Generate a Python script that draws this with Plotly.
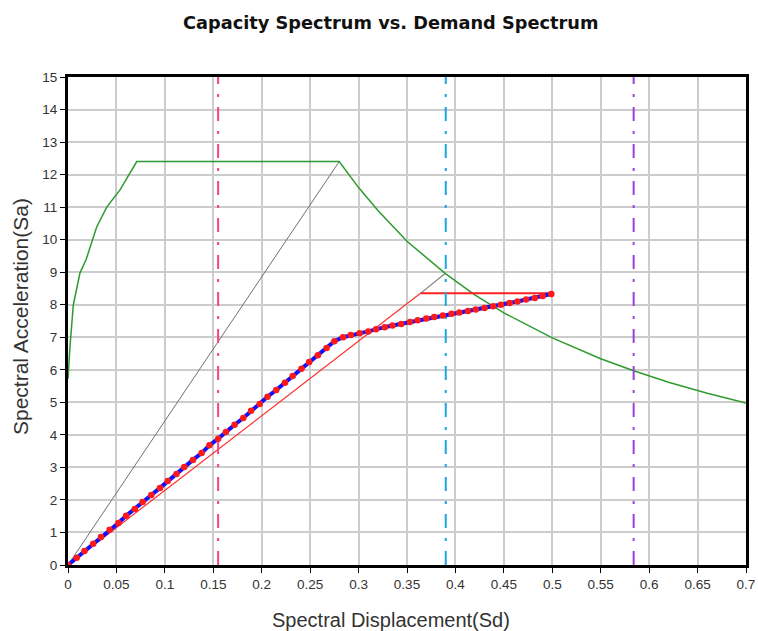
import plotly.graph_objects as go

# Capacity curve (blue line with red markers)
cap_sd = [0.000, 0.009, 0.017, 0.026, 0.034, 0.043, 0.052, 0.060, 0.069, 0.077,
          0.086, 0.095, 0.103, 0.112, 0.120, 0.129, 0.138, 0.146, 0.155, 0.163,
          0.172, 0.181, 0.189, 0.198, 0.206, 0.215, 0.224, 0.232, 0.241, 0.249,
          0.258, 0.267, 0.275, 0.284, 0.292, 0.301, 0.310, 0.318, 0.327, 0.335,
          0.344, 0.353, 0.361, 0.370, 0.378, 0.387, 0.396, 0.404, 0.413, 0.421,
          0.430, 0.439, 0.447, 0.456, 0.464, 0.473, 0.482, 0.490, 0.499]
cap_sa = [0.00, 0.22, 0.43, 0.65, 0.86, 1.08, 1.29, 1.51, 1.72, 1.94,
          2.15, 2.37, 2.58, 2.80, 3.01, 3.23, 3.44, 3.68, 3.88, 4.09,
          4.31, 4.52, 4.74, 4.95, 5.17, 5.38, 5.60, 5.81, 6.03, 6.24,
          6.45, 6.67, 6.88, 7.00, 7.07, 7.12, 7.18, 7.25, 7.31, 7.36,
          7.41, 7.47, 7.52, 7.58, 7.62, 7.67, 7.72, 7.76, 7.81, 7.85,
          7.90, 7.95, 8.00, 8.05, 8.10, 8.16, 8.21, 8.27, 8.33]

# Demand spectrum (green)
dem_sd = [0.000, 0.002, 0.0055, 0.0124, 0.0186, 0.0296, 0.040, 0.0537, 0.071,
          0.280, 0.300, 0.320, 0.350, 0.390, 0.420, 0.450, 0.500, 0.550, 0.584,
          0.620, 0.660, 0.700]
dem_sa = [5.72, 6.70, 8.00, 8.98, 9.38, 10.39, 11.00, 11.53, 12.40,
          12.40, 11.60, 10.90, 9.95, 8.95, 8.30, 7.75, 6.98, 6.34, 5.97,
          5.62, 5.28, 4.98]

# Gray lines
gray1_sd = [0.0, 0.280]
gray1_sa = [0.0, 12.40]
gray2_sd = [0.364, 0.389]
gray2_sa = [8.35, 8.95]

# Red bilinear
red_diag_sd = [0.0, 0.364]
red_diag_sa = [0.0, 8.35]
red_hor_sd = [0.364, 0.499]
red_hor_sa = [8.35, 8.35]

# Vertical dash-dot lines
vlines_sd = [0.155, 0.390, 0.584]
vlines_color = ["#f5457c", "#1aa8e0", "#a040dc"]

x_ticks = [round(0.05 * i, 2) for i in range(15)]
x_tick_labels = ["0", "0.05", "0.1", "0.15", "0.2", "0.25", "0.3", "0.35", "0.4",
                 "0.45", "0.5", "0.55", "0.6", "0.65", "0.7"]
y_ticks = list(range(16))

title_text = "Capacity Spectrum vs. Demand Spectrum"
x_title = "Spectral Displacement(Sd)"
y_title = "Spectral Acceleration(Sa)"

fig = go.Figure()

fig.add_trace(go.Scatter(x=gray1_sd, y=gray1_sa, mode="lines",
                         line=dict(color="#707070", width=1)))
fig.add_trace(go.Scatter(x=gray2_sd, y=gray2_sa, mode="lines",
                         line=dict(color="#808080", width=1.2)))
fig.add_trace(go.Scatter(x=dem_sd, y=dem_sa, mode="lines",
                         line=dict(color="#2e9a2e", width=1.5)))
fig.add_trace(go.Scatter(x=red_diag_sd, y=red_diag_sa, mode="lines",
                         line=dict(color="#ff3030", width=1.2)))
fig.add_trace(go.Scatter(x=red_hor_sd, y=red_hor_sa, mode="lines",
                         line=dict(color="#ff2020", width=2)))
for xv, c in zip(vlines_sd, vlines_color):
    fig.add_trace(go.Scatter(x=[xv, xv], y=[0, 15], mode="lines",
                             line=dict(color=c, width=2, dash="14px,10px,3px,10px")))
fig.add_trace(go.Scatter(x=cap_sd, y=cap_sa, mode="lines+markers",
                         line=dict(color="#1010ff", width=4),
                         marker=dict(color="#ff1a1a", size=6.5)))

fig.update_layout(
    width=758, height=631,
    paper_bgcolor="white", plot_bgcolor="white",
    showlegend=False,
    margin=dict(l=68, r=12, t=77, b=66, autoexpand=False),
    font=dict(family="Liberation Sans, Arial", color="#333333"),
    annotations=[
        dict(text="<b>" + title_text + "</b>", xref="paper", yref="paper",
             x=(390 - 68) / 678, y=1 + (77 - 23) / 488, xanchor="center", yanchor="middle",
             showarrow=False,
             font=dict(family="DejaVu Sans", size=17.75, color="#111111")),
        dict(text=x_title, xref="paper", yref="paper",
             x=(391 - 68) / 678, y=-(620 - 565) / 488, xanchor="center", yanchor="middle",
             showarrow=False, font=dict(size=20, color="#333333")),
        dict(text=y_title, xref="paper", yref="paper", textangle=-90,
             x=-(68 - 20) / 678, y=(565 - 317) / 488, xanchor="center", yanchor="middle",
             showarrow=False, font=dict(size=21, color="#333333")),
    ],
)
fig.update_xaxes(
    range=[0, 0.7], tickvals=x_ticks, ticktext=x_tick_labels,
    showgrid=True, gridcolor="#cccccc", gridwidth=1.5,
    showline=True, linecolor="black", linewidth=3, mirror=True,
    ticks="outside", ticklen=5, tickcolor="black", tickwidth=1,
    tickfont=dict(size=13.5, color="#333333"),
    ticklabeloverflow="allow",
    zeroline=False, automargin=False,
)
fig.update_yaxes(
    range=[0, 15], tickvals=y_ticks,
    showgrid=True, gridcolor="#cccccc", gridwidth=1.5,
    showline=True, linecolor="black", linewidth=3, mirror=True,
    ticks="outside", ticklen=5, tickcolor="black", tickwidth=1,
    tickfont=dict(size=13.5, color="#333333"),
    ticklabeloverflow="allow",
    zeroline=False, automargin=False,
)

fig.write_html(
    "out.html",
    config={"displayModeBar": False},
    post_script="document.body.style.margin='0';document.body.style.overflow='hidden';",
)
